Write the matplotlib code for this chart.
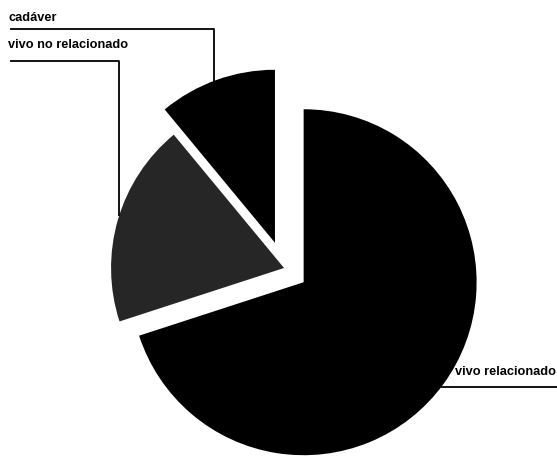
"""Pie chart: tipo de donante."""

import matplotlib

matplotlib.use("Agg")

import matplotlib.pyplot as plt
import numpy as np

labels = ["cadáver", "vivo no relacionado", "vivo relacionado"]
values = [11, 19, 70]
explode = [0.155, 0.0, 0.14]
colors = ["#000000", "#262626", "#000000"]

plt.rcParams["font.family"] = ["Liberation Sans", "DejaVu Sans"]

fig = plt.figure(figsize=(5.57, 4.59), dpi=100)
ax = fig.add_axes([0, 0, 1, 1])

wedges, _ = ax.pie(
    values,
    explode=explode,
    colors=colors,
    startangle=90,
    counterclock=True,
    radius=1.0,
    wedgeprops=dict(linewidth=0),
)

ax.set_xlim(-1.642, 1.578)
ax.set_ylim(-1.104, 1.549)
ax.set_aspect("equal")
ax.axis("off")


def arc_y(wedge, x, upper=True):
    cx, cy = wedge.center
    r = wedge.r
    dy = np.sqrt(max(r**2 - (x - cx) ** 2, 0))
    return cy + dy if upper else cy - dy


def arc_x(wedge, y):
    cx, cy = wedge.center
    r = wedge.r
    return cx + np.sqrt(max(r**2 - (y - cy) ** 2, 0))


line_kw = dict(color="black", linewidth=1.3, solid_capstyle="butt")
text_kw = dict(fontsize=9.2, fontweight="bold", va="center", ha="left")

# cadáver
x_left, x_drop, y_line = -1.584, -0.405, 1.382
ax.plot([x_left, x_drop, x_drop], [y_line, y_line, arc_y(wedges[0], x_drop)], **line_kw)
ax.text(-1.595, 1.445, labels[0], **text_kw)

# vivo no relacionado
x_drop, y_line = -0.954, 1.197
ax.plot([x_left, x_drop, x_drop], [y_line, y_line, arc_y(wedges[1], x_drop)], **line_kw)
ax.text(-1.595, 1.289, labels[1], **text_kw)

# vivo relacionado
y_line = -0.688
ax.plot([arc_x(wedges[2], y_line), 1.578], [y_line, y_line], **line_kw)
ax.text(0.988, -0.601, labels[2], **text_kw)

fig.savefig("out.png", dpi=100)
plt.close(fig)
